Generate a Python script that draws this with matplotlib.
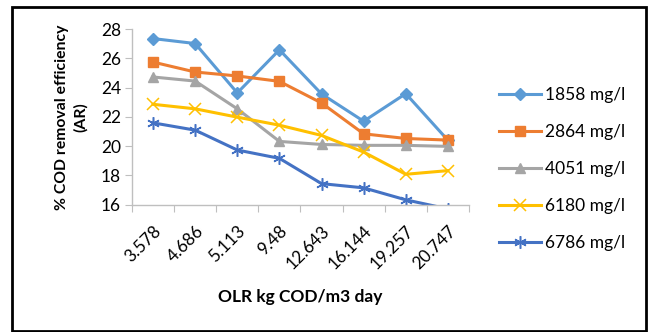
import numpy as np
import matplotlib.pyplot as plt
from matplotlib.patches import Rectangle

plt.rcParams['font.family'] = ['Lato', 'DejaVu Sans']

olr = ['3.578', '4.686', '5.113', '9.48', '12.643', '16.144', '19.257', '20.747']

s1858 = [27.36, 27.02, 23.64, 26.59, 23.57, 21.70, 23.59, 20.40]
s2864 = [25.75, 25.07, 24.80, 24.43, 22.95, 20.84, 20.52, 20.41]
s4051 = [24.73, 24.45, 22.55, 20.32, 20.11, 20.05, 20.05, 19.98]
s6180 = [22.86, 22.55, 21.98, 21.43, 20.73, 19.59, 18.07, 18.32]
s6786 = [21.59, 21.09, 19.73, 19.16, 17.43, 17.14, 16.32, 15.70]

series = [
    ('1858 mg/l', s1858, '#5B9BD5', 'D', 6),
    ('2864 mg/l', s2864, '#ED7D31', 's', 7),
    ('4051 mg/l', s4051, '#A5A5A5', '^', 7),
    ('6180 mg/l', s6180, '#FFC000', 'x', 8),
    ('6786 mg/l', s6786, '#4472C4', (6, 2, 0), 9),
]

fig = plt.figure(figsize=(6.48, 3.32), dpi=100)
ax = fig.add_axes([0.2037, 0.384, 0.520, 0.528])

x = np.arange(len(olr))
for name, vals, col, mk, ms in series:
    mew = 1.1 if mk in ('x', (6, 2, 0)) else 1
    ax.plot(x, vals, color=col, lw=2.2, marker=mk, ms=ms, mew=mew,
            label=name, clip_on=True)

ax.set_xlim(-0.5, len(olr) - 0.5)
ax.set_ylim(16, 28)
ax.set_yticks(np.arange(16, 29, 2))
ax.set_xticks(np.arange(-0.5, len(olr), 1.0))
ax.set_xticks(x, minor=True)
ax.set_xticklabels([])
ax.set_xticklabels(olr, minor=True, rotation=45, ha='right', va='top',
                   rotation_mode='anchor')
ax.tick_params(axis='x', which='minor', length=0, pad=13, labelsize=12.3)
ax.tick_params(axis='x', which='major', length=5, color='#BFBFBF')
ax.tick_params(axis='y', length=5, color='#BFBFBF', labelsize=12.5, pad=3)

for side in ('top', 'right'):
    ax.spines[side].set_visible(False)
for side in ('left', 'bottom'):
    ax.spines[side].set_color('#BFBFBF')
    ax.spines[side].set_linewidth(1)

ax.set_ylabel('% COD removal efficiency\n(AR)', fontsize=11.3,
              fontweight='bold', labelpad=9, linespacing=1.4)
ax.set_xlabel('OLR kg COD/m3 day', fontsize=12.5, fontweight='bold', labelpad=12)

fig.legend(loc='center left', bbox_to_anchor=(0.770, 0.491), frameon=False,
           fontsize=12.5, handlelength=2.4, handletextpad=0.25,
           labelspacing=1.2, borderpad=0, borderaxespad=0)

fig.patches.append(Rectangle((12 / 648, 1.5 / 332), 634 / 648, 324 / 332,
                             transform=fig.transFigure, fill=False,
                             edgecolor='black', lw=2))

fig.savefig('out.png', dpi=100)
